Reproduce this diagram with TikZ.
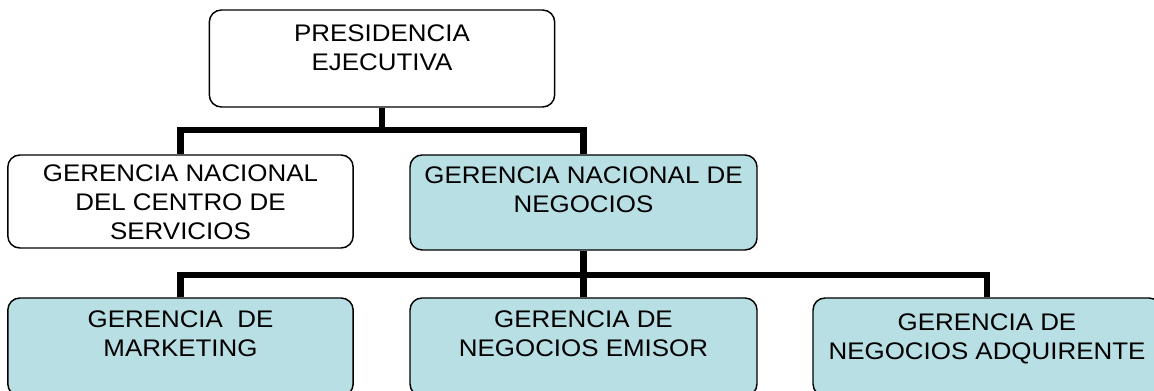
\documentclass[tikz,border=0pt]{standalone}
\usepackage{fontspec}
\setmainfont[FakeStretch=1.08]{Liberation Sans}

\definecolor{aqua}{RGB}{184,223,228}

\begin{document}
\begin{tikzpicture}[x=0.75pt,y=-0.75pt,
  box/.style={draw,rounded corners=9pt,line width=1.1pt,inner sep=0pt,minimum width=259pt},
  aquabox/.style={box,fill=aqua},
  txt/.style={anchor=north,align=center,inner sep=0pt,font=\fontsize{18}{22}\selectfont},
  link/.style={line width=4.8pt}]
\useasboundingbox (0,0) rectangle (1154,391);
\clip (0,0) rectangle (1154,391);

\node[box,minimum height=72.75pt] (pres) at (382,58.5) {};
\node[box,minimum height=69.75pt] (gnc) at (180.5,201.5) {};
\node[aquabox,minimum height=71.25pt,minimum width=260.25pt] (gnn) at (583.5,202.5) {};
\node[aquabox,minimum height=73.5pt] (mkt) at (180.5,347) {};
\node[aquabox,minimum height=73.5pt,minimum width=260.25pt] (emi) at (583.5,347) {};
\node[aquabox,minimum height=73.5pt,minimum width=261pt] (adq) at (987,347) {};

\node[txt] (presT) at (382,24) {PRESIDENCIA\\EJECUTIVA};
\node[txt] (gncT) at (180.5,164) {GERENCIA NACIONAL\\DEL CENTRO DE\\SERVICIOS};
\node[txt] (gnnT) at (583.5,166) {GERENCIA NACIONAL DE\\NEGOCIOS};
\node[txt] (mktT) at (180.5,310) {GERENCIA\ \ DE\\MARKETING};
\node[txt] (emiT) at (583.5,310) {GERENCIA DE\\NEGOCIOS EMISOR};
\node[txt] (adqT) at (987,313) {GERENCIA DE\\NEGOCIOS ADQUIRENTE};

\coordinate (bus1) at (pres.south |- 0,130);
\coordinate (bus2) at (gnn.south |- 0,275);
\draw[link] (pres.south) -- (bus1) -| (gnc.north);
\draw[link] (bus1) -| (gnn.north);
\draw[link] (gnn.south) -- (bus2) -| (mkt.north);
\draw[link] (bus2) -| (adq.north);
\draw[link] (bus2) -- (emi.north);

\end{tikzpicture}
\end{document}
